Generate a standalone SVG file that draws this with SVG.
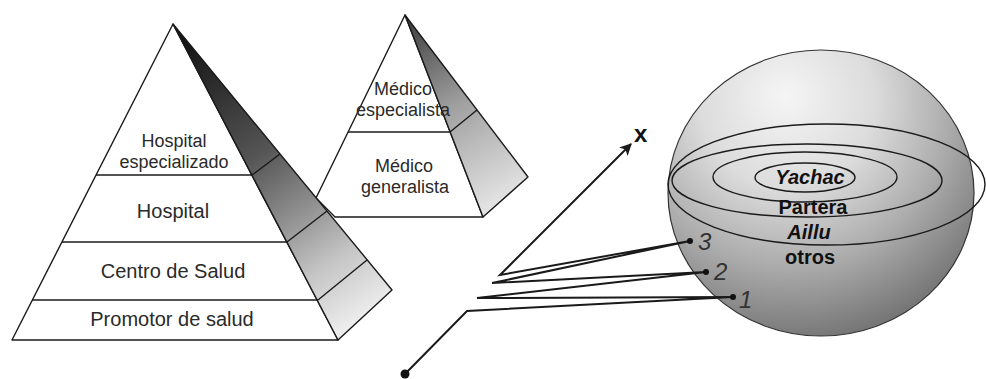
<svg xmlns="http://www.w3.org/2000/svg" width="986" height="379" viewBox="0 0 986 379">
<defs>
<linearGradient id="gBig" gradientUnits="userSpaceOnUse" x1="173" y1="24" x2="365" y2="314">
<stop offset="0" stop-color="#0a0a0a"/>
<stop offset="0.45" stop-color="#555"/>
<stop offset="0.65" stop-color="#8f8f8f"/>
<stop offset="0.82" stop-color="#c4c4c4"/>
<stop offset="1" stop-color="#ececec"/>
</linearGradient>
<linearGradient id="gSmall" gradientUnits="userSpaceOnUse" x1="405" y1="15" x2="505" y2="197">
<stop offset="0" stop-color="#3a3a3a"/>
<stop offset="0.5" stop-color="#a0a0a0"/>
<stop offset="1" stop-color="#e2e2e2"/>
</linearGradient>
<radialGradient id="gSphere" gradientUnits="userSpaceOnUse" cx="790" cy="110" r="250" fx="785" fy="95">
<stop offset="0" stop-color="#f5f5f5"/>
<stop offset="0.35" stop-color="#dcdcdc"/>
<stop offset="0.65" stop-color="#ababab"/>
<stop offset="0.85" stop-color="#858585"/>
<stop offset="1" stop-color="#686868"/>
</radialGradient>
<marker id="arr" viewBox="0 0 10 10" refX="9" refY="5" markerWidth="12" markerHeight="12" markerUnits="userSpaceOnUse" orient="auto">
<path d="M0,0 L10,5 L0,10 L2.5,5 Z" fill="#1a1a1a"/>
</marker>
<style>
.ln{fill:none;stroke:#1a1a1a;stroke-width:1.4;stroke-linejoin:round}
.face{fill:#fff;stroke:#1a1a1a;stroke-width:1.4;stroke-linejoin:round}
.lbl{font-family:"Liberation Sans",Arial,sans-serif;font-size:18px;fill:#2a2a2a;text-anchor:middle}
.big{font-size:20px}
.sph{font-family:"Liberation Sans",Arial,sans-serif;font-size:20px;font-weight:bold;fill:#111;text-anchor:middle}
.num{font-family:"Liberation Sans",Arial,sans-serif;font-size:24px;font-style:italic;fill:#333}
.zz{fill:none;stroke:#1a1a1a;stroke-width:2;stroke-linejoin:miter}
</style>
</defs>
<rect width="986" height="379" fill="#fff"/>

<g id="small-pyramid">
<polygon class="face" points="405,15 316,198 335,217 483,217"/>
<polygon points="405,15 528,177 483,217" fill="url(#gSmall)" stroke="#1a1a1a" stroke-width="1.4" stroke-linejoin="round"/>
<line class="ln" x1="348" y1="132" x2="450" y2="132"/>
<line class="ln" x1="450" y1="132" x2="477" y2="110"/>
<text class="lbl" x="403" y="95">Médico</text>
<text class="lbl" x="403" y="116">especialista</text>
<text class="lbl" x="404" y="172">Médico</text>
<text class="lbl" x="405" y="193">generalista</text>
</g>

<g id="big-pyramid">
<polygon class="face" points="173,24 12,340 338,340"/>
<polygon points="173,24 392,290 338,340" fill="url(#gBig)" stroke="#1a1a1a" stroke-width="1.4" stroke-linejoin="round"/>
<line class="ln" x1="96" y1="175" x2="252" y2="175"/>
<line class="ln" x1="62" y1="242" x2="287" y2="242"/>
<line class="ln" x1="32" y1="300" x2="318" y2="300"/>
<line class="ln" x1="252" y1="175" x2="280" y2="154"/>
<line class="ln" x1="287" y1="242" x2="327" y2="211"/>
<line class="ln" x1="318" y1="300" x2="367" y2="260"/>
<text class="lbl" x="174" y="147">Hospital</text>
<text class="lbl" x="174" y="168">especializado</text>
<text class="lbl big" x="173" y="218">Hospital</text>
<text class="lbl big" x="173" y="278">Centro de Salud</text>
<text class="lbl big" x="172" y="326">Promotor de salud</text>
</g>

<g id="sphere">
<ellipse cx="821" cy="193" rx="153" ry="143" fill="url(#gSphere)" stroke="#333" stroke-width="1.2"/>
<ellipse class="ln" cx="826.5" cy="184.5" rx="158.5" ry="60.5"/>
<ellipse class="ln" cx="807" cy="180.5" rx="135" ry="36.5"/>
<ellipse class="ln" cx="805" cy="177" rx="92" ry="25"/>
<ellipse class="ln" cx="805" cy="177.5" rx="50" ry="14.5"/>
<text class="sph" x="810" y="184" font-style="italic">Yachac</text>
<text class="sph" x="813" y="214">Partera</text>
<text class="sph" x="809" y="239" font-style="italic">Aillu</text>
<text class="sph" x="810" y="264">otros</text>
</g>

<g id="connectors">
<polyline class="zz" points="405,374 467,311 733,297 477,298 706,272 492,283 690,241 500,275 631,144" marker-end="url(#arr)"/>
<circle cx="405" cy="374" r="4.5" fill="#111"/>
<circle cx="733" cy="297" r="3" fill="#111"/>
<circle cx="706" cy="272" r="3" fill="#111"/>
<circle cx="690" cy="241" r="3" fill="#111"/>
</g>

<g id="labels">
<text class="num" x="698" y="250">3</text>
<text class="num" x="714" y="280">2</text>
<text class="num" x="739" y="308">1</text>
<text x="634" y="142" font-family="Liberation Sans, Arial, sans-serif" font-size="24" font-weight="bold" fill="#111">x</text>
</g>
</svg>
